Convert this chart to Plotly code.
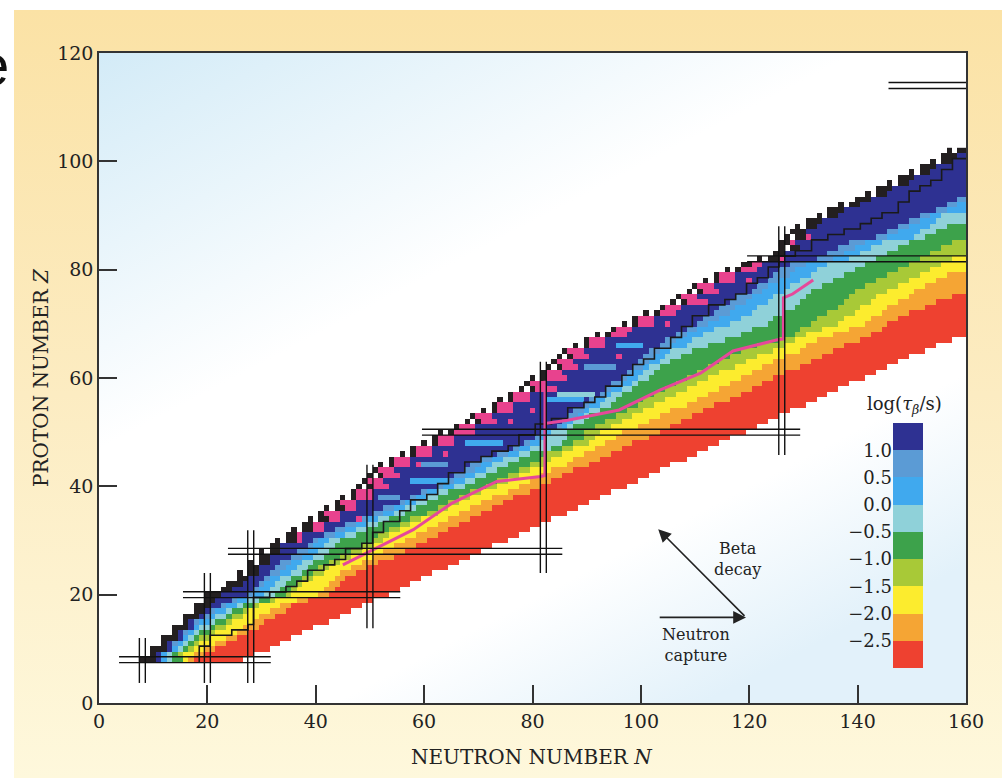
import base64
import plotly.graph_objects as go

# ---------------- data ----------------
# one entry per proton number Z = 8 .. 102
Z_rows = list(range(8, 103))

# first (leftmost) occupied neutron number of each row
L_first = [8, 10, 10, 12, 12, 14, 14, 16, 16, 18,
           18, 20, 20, 23, 24, 26, 26, 28, 28, 30,
           30, 32, 33, 35, 36, 38, 39, 41, 42, 44,
           45, 47, 48, 49, 50, 51, 52, 54, 56, 58,
           60, 62, 63, 66, 68, 69, 71, 73, 74, 76,
           78, 79, 80, 82, 83, 84, 85, 86, 88, 90,
           92, 95, 97, 99, 101, 104, 106, 107, 109, 110,
           112, 114, 116, 119, 122, 125, 126, 126, 127, 128,
           129, 131, 133, 135, 137, 140, 142, 144, 146, 148,
           150, 152, 154, 156, 157]

# cells at the proton-rich edge: K = stable (black), P = pink, . = empty
edge_cells = ["KKK", "K", "KKK", "K", "KKK", "K", "KKK", "K", "KKK", "KK",
              "KKK", "KK", "KKK", "KK", "KKK", "KK", "K.KK", "KK", "K.KK", "KK",
              "K.KK", "KK", "K.KKP", "KKP", "K.KKPP", "KKPP", "K.KKPP", "KPPP", "K.KKPP", "KPPP",
              "K.KPPP", "KPPP", "K.KPPP", "KPPP", "K.KPPP", "KPPP", "K.KPPP", "KPPP", "K.KPPP", "KPPP",
              "K.KPPP", "KPPP", "K.KPPPP", "KPPP", "K.KPPP", "KPPP", "K.KPPP", "KPPP", "K.KPPP", "KPPP",
              "K.KPPP", "KPPP", "K.KPPP", "KPPP", "K.KPPP", "KPPP", "K.KPPP", "KPPP", "K.KPPP", "KPPP",
              "K.KPPP", "KPPP", "K.KPPP", "KPPP", "K.KPPP", "KPPP", "K.KPPP", "KPPP", "K.KPPP", "KPPP",
              "K.KPPP", "KPPP", "K.KPPP", "KKPP", "K.KKP", "KK", "K.KK", "KKP", "K.KKP", "KKK",
              "K.KK", "KKK", "K.KK", "KKK", "K.KK", "KKK", "K.KK", "KKK", "K.KK", "KKK",
              "K.KK", "KKK", "K.KK", "KKK", "K.KK"]

# first neutron number of each lifetime band (log tau_beta) in every row
N_mblue = [12, 12, 14, 14, 16, 16, 18, 18, 20, 21,
           23, 25, 28, 29, 30, 31, 32, 33, 34, 36,
           37, 39, 40, 42, 44, 46, 48, 51, 53, 56,
           58, 60, 63, 65, 66, 68, 69, 71, 74, 77,
           79, 81, 82, 85, 86, 87, 88, 90, 91, 93,
           94, 95, 97, 98, 99, 100, 101, 102, 104, 105,
           107, 109, 111, 112, 114, 115, 117, 118, 121, 122,
           124, 125, 126, 128, 133, 135, 137, 139, 144, 146,
           148, 150, 152, 155, 157, 159, 161, 161, 161, 161,
           161, 161, 161, 161, 161]
N_lblue = [12, 12, 14, 15, 16, 17, 18, 19, 21, 22,
           24, 26, 29, 30, 31, 32, 34, 35, 36, 38,
           39, 40, 41, 44, 46, 48, 50, 53, 55, 57,
           59, 61, 64, 66, 68, 70, 71, 73, 76, 78,
           80, 82, 83, 86, 87, 89, 90, 91, 92, 94,
           95, 97, 98, 99, 101, 102, 103, 104, 106, 107,
           109, 111, 113, 115, 117, 118, 120, 121, 123, 124,
           126, 128, 129, 131, 136, 138, 140, 142, 146, 148,
           150, 152, 154, 157, 159, 161, 161, 161, 161, 161,
           161, 161, 161, 161, 161]
N_cyan = [13, 13, 15, 16, 17, 18, 19, 21, 22, 24,
          26, 28, 31, 32, 33, 34, 36, 37, 38, 40,
          41, 42, 43, 46, 48, 50, 52, 55, 57, 59,
          61, 63, 66, 68, 70, 72, 73, 75, 78, 80,
          82, 83, 84, 87, 88, 90, 91, 93, 94, 95,
          97, 99, 100, 101, 102, 104, 105, 106, 109, 110,
          112, 114, 117, 119, 121, 122, 124, 125, 127, 128,
          130, 132, 133, 135, 139, 141, 143, 145, 151, 152,
          154, 155, 156, 161, 161, 161, 161, 161, 161, 161,
          161, 161, 161, 161, 161]
N_green = [14, 14, 16, 17, 18, 19, 21, 22, 24, 25,
           27, 30, 33, 34, 35, 36, 38, 39, 40, 42,
           43, 44, 45, 48, 50, 52, 54, 57, 59, 61,
           63, 65, 68, 70, 72, 74, 76, 78, 80, 84,
           86, 87, 87, 88, 90, 91, 93, 95, 96, 97,
           99, 100, 102, 103, 104, 106, 108, 110, 113, 116,
           119, 121, 124, 125, 127, 129, 130, 131, 132, 134,
           136, 138, 140, 142, 144, 146, 148, 150, 153, 155,
           157, 161, 161, 161, 161, 161, 161, 161, 161, 161,
           161, 161, 161, 161, 161]
N_ygreen = [16, 15, 17, 18, 19, 21, 22, 24, 25, 27,
            29, 32, 35, 36, 37, 38, 40, 41, 43, 45,
            47, 49, 51, 52, 54, 56, 58, 61, 63, 65,
            67, 69, 72, 74, 76, 78, 80, 82, 83, 86,
            88, 90, 90, 92, 94, 96, 98, 100, 101, 103,
            105, 107, 109, 111, 113, 115, 117, 119, 122, 126,
            129, 130, 132, 133, 135, 137, 138, 139, 140, 142,
            144, 146, 148, 150, 152, 154, 156, 158, 161, 161,
            161, 161, 161, 161, 161, 161, 161, 161, 161, 161,
            161, 161, 161, 161, 161]
N_yellow = [16, 16, 18, 19, 21, 22, 24, 25, 27, 28,
            30, 33, 36, 37, 38, 40, 42, 43, 45, 47,
            49, 51, 53, 54, 56, 58, 60, 63, 65, 67,
            69, 71, 74, 76, 78, 80, 83, 84, 86, 88,
            91, 92, 93, 95, 97, 99, 101, 103, 105, 107,
            109, 111, 113, 115, 118, 120, 122, 125, 127, 129,
            131, 134, 137, 138, 140, 141, 143, 144, 146, 148,
            150, 152, 154, 156, 158, 161, 161, 161, 161, 161,
            161, 161, 161, 161, 161, 161, 161, 161, 161, 161,
            161, 161, 161, 161, 161]
N_orange = [17, 18, 20, 22, 24, 26, 27, 29, 30, 32,
            34, 37, 41, 42, 43, 44, 45, 47, 49, 51,
            53, 55, 57, 59, 61, 63, 65, 67, 69, 71,
            73, 76, 78, 80, 82, 84, 87, 88, 90, 92,
            94, 96, 97, 100, 102, 104, 106, 109, 111, 113,
            115, 117, 119, 121, 123, 125, 127, 130, 131, 133,
            136, 139, 142, 143, 145, 146, 148, 150, 151, 153,
            155, 157, 161, 161, 161, 161, 161, 161, 161, 161,
            161, 161, 161, 161, 161, 161, 161, 161, 161, 161,
            161, 161, 161, 161, 161]
N_red = [18, 20, 22, 24, 26, 28, 30, 31, 33, 35,
         36, 39, 43, 44, 45, 46, 48, 50, 52, 55,
         57, 59, 61, 63, 65, 67, 69, 71, 73, 75,
         77, 80, 82, 84, 86, 88, 91, 93, 95, 97,
         99, 102, 104, 106, 108, 110, 112, 114, 117, 119,
         121, 123, 125, 127, 130, 132, 134, 136, 138, 141,
         143, 145, 146, 148, 150, 153, 155, 158, 161, 161,
         161, 161, 161, 161, 161, 161, 161, 161, 161, 161,
         161, 161, 161, 161, 161, 161, 161, 161, 161, 161,
         161, 161, 161, 161, 161]
N_last = [26, 28, 31, 33, 35, 37, 39, 42, 44, 46,
          48, 50, 53, 55, 57, 59, 61, 64, 66, 68,
          70, 72, 75, 77, 79, 81, 83, 86, 88, 90,
          92, 94, 97, 99, 101, 103, 105, 108, 110, 112,
          114, 116, 119, 121, 123, 125, 127, 130, 132, 134,
          136, 138, 141, 143, 145, 147, 149, 152, 154, 157,
          160, 160, 160, 160, 160, 160, 160, 160, 160, 160,
          160, 160, 160, 160, 160, 160, 160, 160, 160, 160,
          160, 160, 160, 160, 160, 160, 160, 160, 160, 160,
          160, 160, 160, 160, 160]

# scattered cells / short streaks seen inside the bands (Z, first N, last N, category)
streak_Z = [38, 41, 44, 48, 56, 57, 62, 66, 34, 44, 46, 52, 54, 58, 60, 64, 70, 74, 78]
streak_N0 = [52, 58, 60, 68, 83, 85, 90, 96, 48, 59, 64, 76, 80, 84, 86, 96, 105, 112, 120]
streak_N1 = [55, 64, 64, 74, 89, 91, 95, 100, 48, 59, 64, 76, 80, 84, 86, 96, 105, 112, 120]
streak_cat = [3, 4, 3, 4, 4, 5, 3, 4, 1, 1, 1, 1, 1, 1, 1, 1, 1, 1, 1]

# legend (colour key)
key_labels = ["1.0", "0.5", "0.0", "\u22120.5", "\u22121.0", "\u22121.5", "\u22122.0", "\u22122.5"]
cat_colors = ["#231f20", "#e8428e", "#2e3192", "#5b9bd5", "#40a9ee", "#8fd1d9",
              "#3da24b", "#a8c937", "#fcec2e", "#f5a534", "#ee4130"]

# magic numbers (double lines) and their extents
magic_N = [8, 20, 28, 50, 82, 126]
magic_N_Zlo = [3.7, 3.7, 3.7, 13.8, 24.0, 45.8]
magic_N_Zhi = [12.0, 24.0, 31.9, 44.0, 63.0, 88.0]
magic_Z = [8, 20, 28, 50, 82, 114]
magic_Z_Nlo = [3.7, 15.5, 23.8, 59.6, 119.6, 145.7]
magic_Z_Nhi = [31.7, 55.6, 85.5, 129.4, 160.0, 160.0]

# black staircase boundary
stair_N = [18.5, 20.5, 24.5, 27.5, 28.5, 31.5, 34.5, 36.5, 38.5, 41.5, 43.5, 45.5, 48.5, 50.5,
           52.5, 55.5, 57.5, 60.5, 62.5, 64.5, 67.5, 70.5, 72.5, 75.5, 77.5, 80.5, 83.5, 86.5,
           89.5, 91.5, 93.5, 96.5, 98.5, 100.5, 102.5, 105.5, 107.5, 109.5, 112.5, 115.5, 117.5,
           119.5, 121.5, 123.5, 125.5, 128.5, 131.5, 134.5, 137.5, 140.5, 142.5, 144.5, 147.5,
           149.5, 151.5, 153.5, 155.5, 157.5, 160]
stair_Z = [7.5, 10.5, 12.5, 13.5, 14.5, 19.5, 20.5, 21.5, 22.5, 24.5, 25.5, 26.5, 28.5, 29.5,
           31.5, 33.5, 35.5, 37.5, 38.5, 40.5, 42.5, 44.5, 45.5, 46.5, 47.5, 49.5, 51.5, 52.5,
           54.5, 55.5, 56.5, 58.5, 60.5, 62.5, 63.5, 65.5, 67.5, 69.5, 71.5, 73.5, 74.5,
           75.5, 77.5, 78.5, 80.5, 82.5, 83.5, 85.5, 86.5, 87.5, 88.5, 89.5, 90.5,
           92.5, 94.5, 95.5, 96.5, 98.5, 100.5]

# magenta path (None = break)
path_N = [45, 52, 58, 65, 73.4, 81.5, 82.3, 82.3, None, 82.3, 86.5, 96, 103.6, 111, 117, 125,
          126.3, 126.3, 128, 131.8]
path_Z = [25.5, 29, 32, 36.8, 40.9, 41.8, 42, 59.5, None, 51.6, 52.2, 54.1, 57.8, 60.9, 65, 67,
          67.2, 74.8, 75.5, 78.1]

# arrows (N, Z)
arrow_corner = (119.4, 15.8)
beta_head = (103.2, 32.1)
capture_tail = (103.2, 15.8)

# ---------------- build grid ----------------
NMAX, ZMAX = 160, 102
grid = [[None] * (NMAX + 1) for _ in range(ZMAX + 1)]
edge_code = {"K": 0, "P": 1, "D": 2}
for i, Z in enumerate(Z_rows):
    L = L_first[i]
    bounds = [N_mblue[i], N_lblue[i], N_cyan[i], N_green[i], N_ygreen[i],
              N_yellow[i], N_orange[i], N_red[i]]
    for n in range(L, min(N_last[i], NMAX) + 1):
        k = n - L
        e = edge_cells[i]
        if k < len(e):
            grid[Z][n] = edge_code.get(e[k])
            continue
        c = 2
        for j, b in enumerate(bounds):
            if n >= b:
                c = 3 + j
        grid[Z][n] = c
for z, n0, n1, c in zip(streak_Z, streak_N0, streak_N1, streak_cat):
    for n in range(n0, n1 + 1):
        if grid[z][n] is not None:
            grid[z][n] = c

ncat = len(cat_colors)
cscale = []
for i, col in enumerate(cat_colors):
    cscale.append([i / ncat, col])
    cscale.append([(i + 1) / ncat, col])

fig = go.Figure()
fig.add_trace(go.Heatmap(z=grid, x=list(range(NMAX + 1)), y=list(range(ZMAX + 1)),
                         colorscale=cscale, zmin=-0.5, zmax=ncat - 0.5, showscale=False,
                         hoverinfo="skip"))

fig.add_trace(go.Scatter(x=stair_N, y=stair_Z, mode="lines",
                         line=dict(color="#1a1a1a", width=1.6, shape="vh"),
                         hoverinfo="skip", showlegend=False))
fig.add_trace(go.Scatter(x=path_N, y=path_Z, mode="lines", line=dict(color="#e6489a", width=3),
                         connectgaps=False, hoverinfo="skip", showlegend=False))

off = 0.55
mx, my = [], []
for n, lo, hi in zip(magic_N, magic_N_Zlo, magic_N_Zhi):
    for s in (-off, off):
        mx += [n + s, n + s, None]
        my += [lo, hi, None]
for z, lo, hi in zip(magic_Z, magic_Z_Nlo, magic_Z_Nhi):
    for s in (-off, off):
        mx += [lo, hi, None]
        my += [z + s, z + s, None]
fig.add_trace(go.Scatter(x=mx, y=my, mode="lines", line=dict(color="#111111", width=1.4),
                         hoverinfo="skip", showlegend=False))

key_z = [[c] for c in range(ncat - 1, 1, -1)]
fig.add_trace(go.Heatmap(z=key_z, x=[0], y=list(range(len(key_z))), colorscale=cscale,
                         zmin=-0.5, zmax=ncat - 0.5, showscale=False, hoverinfo="skip",
                         xaxis="x2", yaxis="y2"))

SERIF = "DejaVu Serif"
W, H = 1002, 778
ml, mr, mt, mb = 99, 36, 53, 75
pw, ph = W - ml - mr, H - mt - mb


def px2paper(px, py):
    return (px - ml) / pw, (H - mb - py) / ph


def svg_uri(svg):
    return "data:image/svg+xml;base64," + base64.b64encode(svg.encode()).decode()


paper_svg = ('<svg xmlns="http://www.w3.org/2000/svg" viewBox="0 0 10 10" width="10" height="10" '
             'preserveAspectRatio="none"><defs><linearGradient id="g" x1="0" y1="0" x2="0" y2="1">'
             '<stop offset="0" stop-color="#fbe2a5"/><stop offset="0.5" stop-color="#fcecc2"/>'
             '<stop offset="1" stop-color="#fef8dc"/></linearGradient></defs>'
             '<rect width="10" height="10" fill="url(#g)"/></svg>')
plot_svg = ('<svg xmlns="http://www.w3.org/2000/svg" viewBox="0 0 10 10" width="10" height="10" '
            'preserveAspectRatio="none"><defs><linearGradient id="g" x1="0" y1="0" x2="0.697" y2="1">'
            '<stop offset="0" stop-color="#d3ebf7"/><stop offset="0.41" stop-color="#ffffff"/>'
            '<stop offset="0.8" stop-color="#ffffff"/><stop offset="1" stop-color="#e2f1fa"/>'
            '</linearGradient></defs><rect width="10" height="10" fill="url(#g)"/></svg>')

x0, ytop = px2paper(14, 10)
x1, ybot = px2paper(W, H)
images = [
    dict(source=svg_uri(paper_svg), xref="paper", yref="paper", x=x0, y=ytop, sizex=x1 - x0,
         sizey=ytop - ybot, xanchor="left", yanchor="top", sizing="stretch", layer="below"),
    dict(source=svg_uri(plot_svg), xref="paper", yref="paper", x=0, y=1, sizex=1, sizey=1,
         xanchor="left", yanchor="top", sizing="stretch", layer="below"),
]

axis_common = dict(showgrid=False, zeroline=False, ticks="inside", ticklen=18, tickwidth=1.5,
                   tickcolor="#333333", showline=True, linecolor="#333333", linewidth=1.5,
                   mirror=True, tickfont=dict(family=SERIF, size=19, color="#222222"))

kx0, ky0 = px2paper(893, 668)
kx1, ky1 = px2paper(923, 423)

fig.update_layout(
    width=W, height=H, margin=dict(l=ml, r=mr, t=mt, b=mb, pad=0),
    paper_bgcolor="white", plot_bgcolor="rgba(0,0,0,0)",
    images=images, showlegend=False,
    xaxis=dict(range=[0, 160], tickvals=list(range(0, 161, 20)), **axis_common),
    yaxis=dict(range=[0, 120], tickvals=list(range(0, 121, 20)), **axis_common),
    xaxis2=dict(domain=[kx0, kx1], anchor="y2", range=[-0.5, 0.5], visible=False, fixedrange=True),
    yaxis2=dict(domain=[ky0, ky1], anchor="x2", range=[-0.5, len(key_z) - 0.5], showgrid=False,
                zeroline=False, showline=False, ticks="", fixedrange=True,
                tickvals=[i + 0.5 for i in range(len(key_labels) - 1, -1, -1)],
                ticktext=key_labels, tickfont=dict(family=SERIF, size=18, color="#222222")),
)


def label(text, px, py, size, **kw):
    tx, ty = px2paper(px, py)
    d = dict(text=text, xref="paper", yref="paper", x=tx, y=ty, showarrow=False,
             xanchor="center", yanchor="middle", font=dict(family=SERIF, size=size, color="#222222"))
    d.update(kw)
    return d


ann = [
    label("NEUTRON NUMBER <i>N</i>", 532, 757, 20),
    label("PROTON NUMBER <i>Z</i>", 41, 378, 20, textangle=-90),
    label("log(<i>\u03c4</i><sub><i>\u03b2</i></sub>/s)", 904, 405, 18),
    label("Beta<br>decay", 737, 559, 16),
    label("Neutron<br>capture", 696, 645, 16),
    dict(x=beta_head[0], y=beta_head[1], ax=arrow_corner[0], ay=arrow_corner[1],
         xref="x", yref="y", axref="x", ayref="y", text="", showarrow=True,
         arrowhead=2, arrowsize=1.6, arrowwidth=1.6, arrowcolor="#222222"),
    dict(x=arrow_corner[0], y=arrow_corner[1], ax=capture_tail[0], ay=capture_tail[1],
         xref="x", yref="y", axref="x", ayref="y", text="", showarrow=True,
         arrowhead=2, arrowsize=1.6, arrowwidth=1.6, arrowcolor="#222222"),
    label("e", 11, 64, 58, xanchor="right",
          font=dict(family="Liberation Sans", size=58, color="#111111")),
]
fig.update_layout(annotations=ann)

fig.write_html("out.html", config={"displayModeBar": False},
               post_script="document.body.style.margin='0px';")
